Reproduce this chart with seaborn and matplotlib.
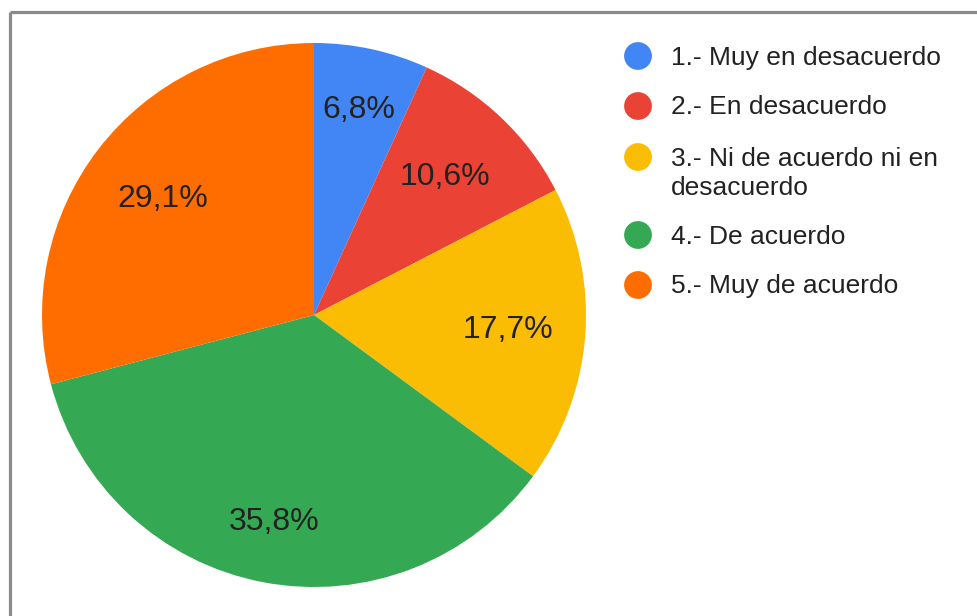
import matplotlib
matplotlib.use("Agg")
import numpy as np
import matplotlib.pyplot as plt
import seaborn as sns

sns.set_theme(style="white")
plt.rcParams["font.family"] = ["Liberation Sans", "DejaVu Sans"]

categories = [
    "1.- Muy en desacuerdo",
    "2.- En desacuerdo",
    "3.- Ni de acuerdo ni en\ndesacuerdo",
    "4.- De acuerdo",
    "5.- Muy de acuerdo",
]
percentages = [6.8, 10.6, 17.7, 35.8, 29.1]
colors = ["#4285F4", "#EA4335", "#FBBC04", "#34A853", "#FF6D01"]

W, H = 978, 616
fig = plt.figure(figsize=(W / 100, H / 100), dpi=100)
fig.patch.set_facecolor("white")

# pie axes: centre (314, 315) px, radius 272 px
cx, cy, r = 314, 315, 272
ax = fig.add_axes([(cx - r) / W, (H - cy - r) / H, 2 * r / W, 2 * r / H])
wedges, texts, autotexts = ax.pie(
    percentages,
    colors=colors,
    startangle=90,
    counterclock=False,
    autopct=lambda p: f"{p:.1f}%".replace(".", ","),
    pctdistance=0.74,
    radius=1.0,
    wedgeprops=dict(linewidth=0),
    textprops=dict(fontsize=23, color="#222222"),
)

# radial placement of each percentage label inside its slice
label_dist = [0.77, 0.70, 0.715, 0.775, 0.70]
for w, t, d in zip(wedges, autotexts, label_dist):
    mid = np.deg2rad((w.theta1 + w.theta2) / 2)
    t.set_position((d * np.cos(mid), d * np.sin(mid)))

ax.set_xlim(-1, 1)
ax.set_ylim(-1, 1)
ax.set_aspect("equal")
ax.axis("off")

# overlay in pixel coordinates for legend and frame
ov = fig.add_axes([0, 0, 1, 1], zorder=5)
ov.set_xlim(0, W)
ov.set_ylim(H, 0)
ov.axis("off")
ov.patch.set_alpha(0)

legend_y = [56, 106, 157, 235, 285]
for label, color, y in zip(categories, colors, legend_y):
    ov.scatter([638], [y], s=400, color=color, edgecolors="none")
    ov.text(671, y - 10.5, label, fontsize=19, color="#222222", va="top",
            ha="left", linespacing=1.27)

# grey frame along the top and left edges
ov.plot([10, W], [11.5, 11.5], color="#8a8a8a", lw=2.3, solid_capstyle="butt")
ov.plot([10, 10], [11.5, H], color="#8a8a8a", lw=2.3, solid_capstyle="butt")

fig.savefig("out.png", dpi=100, facecolor="white")
